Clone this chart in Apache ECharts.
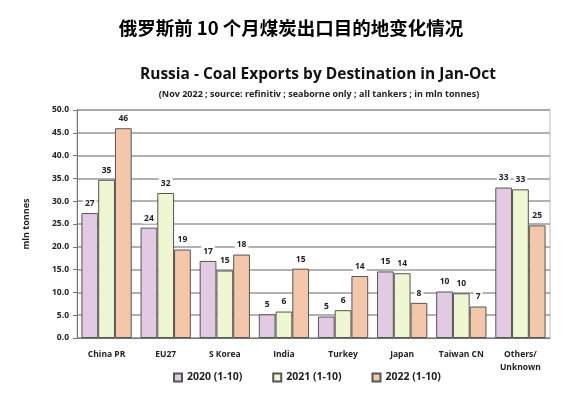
<!DOCTYPE html>
<html>
<head>
<meta charset="utf-8">
<script src="https://cdn.jsdelivr.net/npm/echarts@6/dist/echarts.min.js"></script>
<style>
    html, body { margin: 0; padding: 0; background: #fff; }
    #chart { width: 578px; height: 399px; }
</style>
</head>
<body>
<div id="chart"></div>
<script>
    // 数据
    var categories = ['China PR', 'EU27', 'S Korea', 'India', 'Turkey', 'Japan', 'Taiwan CN', 'Others/\nUnknown'];
    var seriesNames = ['2020 (1-10)', '2021 (1-10)', '2022 (1-10)'];
    var data2020 = [27.4, 24.2, 16.9, 5.2, 4.7, 14.6, 10.2, 33.0];
    var data2021 = [34.7, 31.8, 14.8, 5.8, 6.1, 14.2, 9.8, 32.6];
    var data2022 = [46.0, 19.4, 18.3, 15.2, 13.6, 7.7, 6.9, 24.7];
    var colors = ['#e3cae3', '#eef7d2', '#f4c6aa'];

    var font = '"Open Sans", sans-serif';

    function makeSeries(name, data, color) {
        return {
            name: name,
            type: 'bar',
            data: data,
            barGap: 0,
            barCategoryGap: '15%',
            itemStyle: { color: color, borderColor: '#555', borderWidth: 1 },
            label: {
                show: true,
                position: 'top',
                distance: 4,
                color: '#222',
                fontFamily: font,
                fontWeight: 'bold',
                fontSize: 8.5,
                backgroundColor: '#fff',
                padding: [1, 2],
                formatter: function (p) { return Math.round(p.value); }
            }
        };
    }

    var chart = echarts.init(document.getElementById('chart'));
    chart.setOption({
        animation: false,
        title: [
            {
                text: '俄罗斯前 10 个月煤炭出口目的地变化情况',
                left: 286,
                textAlign: 'center',
                top: 14,
                textStyle: { fontFamily: '"Noto Sans CJK SC", serif', fontSize: 18.5, fontWeight: 'bold', color: '#000' }
            },
            {
                text: 'Russia - Coal Exports by Destination in Jan-Oct',
                left: 313,
                textAlign: 'center',
                top: 62,
                textStyle: { fontFamily: font, fontSize: 15.5, fontWeight: 'bold', color: '#111' }
            },
            {
                text: '(Nov 2022 ; source: refinitiv ; seaborne only ; all tankers ; in mln tonnes)',
                left: 314,
                textAlign: 'center',
                top: 85,
                textStyle: { fontFamily: font, fontSize: 9, fontWeight: 'bold', color: '#222' }
            }
        ],
        legend: {
            bottom: 11,
            left: 168,
            itemWidth: 8,
            itemHeight: 8,
            itemGap: 30,
            icon: 'rect',
            textStyle: { fontFamily: font, fontSize: 10.5, fontWeight: 'bold', color: '#222' },
            data: seriesNames
        },
        grid: {
            left: 77,
            right: 28,
            top: 110,
            bottom: 61,
            show: true,
            borderColor: '#bbb',
            borderWidth: 1
        },
        xAxis: {
            type: 'category',
            data: categories,
            axisLine: { lineStyle: { color: '#777' } },
            axisTick: { show: false },
            axisLabel: {
                interval: 0,
                fontFamily: font,
                fontSize: 8.5,
                fontWeight: 'bold',
                color: '#222',
                margin: 10,
                lineHeight: 13
            }
        },
        yAxis: {
            type: 'value',
            min: 0,
            max: 50,
            interval: 5,
            name: 'mln tonnes',
            nameLocation: 'middle',
            nameGap: 46,
            nameTextStyle: { fontFamily: font, fontSize: 9, fontWeight: 'bold', color: '#222' },
            axisLine: { show: true, lineStyle: { color: '#777' } },
            axisTick: { show: true, length: 4, lineStyle: { color: '#777' } },
            axisLabel: {
                fontFamily: font,
                fontSize: 8.5,
                fontWeight: 'bold',
                color: '#222',
                margin: 8,
                formatter: function (v) { return v.toFixed(1); }
            },
            splitLine: { lineStyle: { color: '#999', width: 1.5 } }
        },
        series: [
            makeSeries(seriesNames[0], data2020, colors[0]),
            makeSeries(seriesNames[1], data2021, colors[1]),
            makeSeries(seriesNames[2], data2022, colors[2])
        ]
    });
</script>
</body>
</html>
